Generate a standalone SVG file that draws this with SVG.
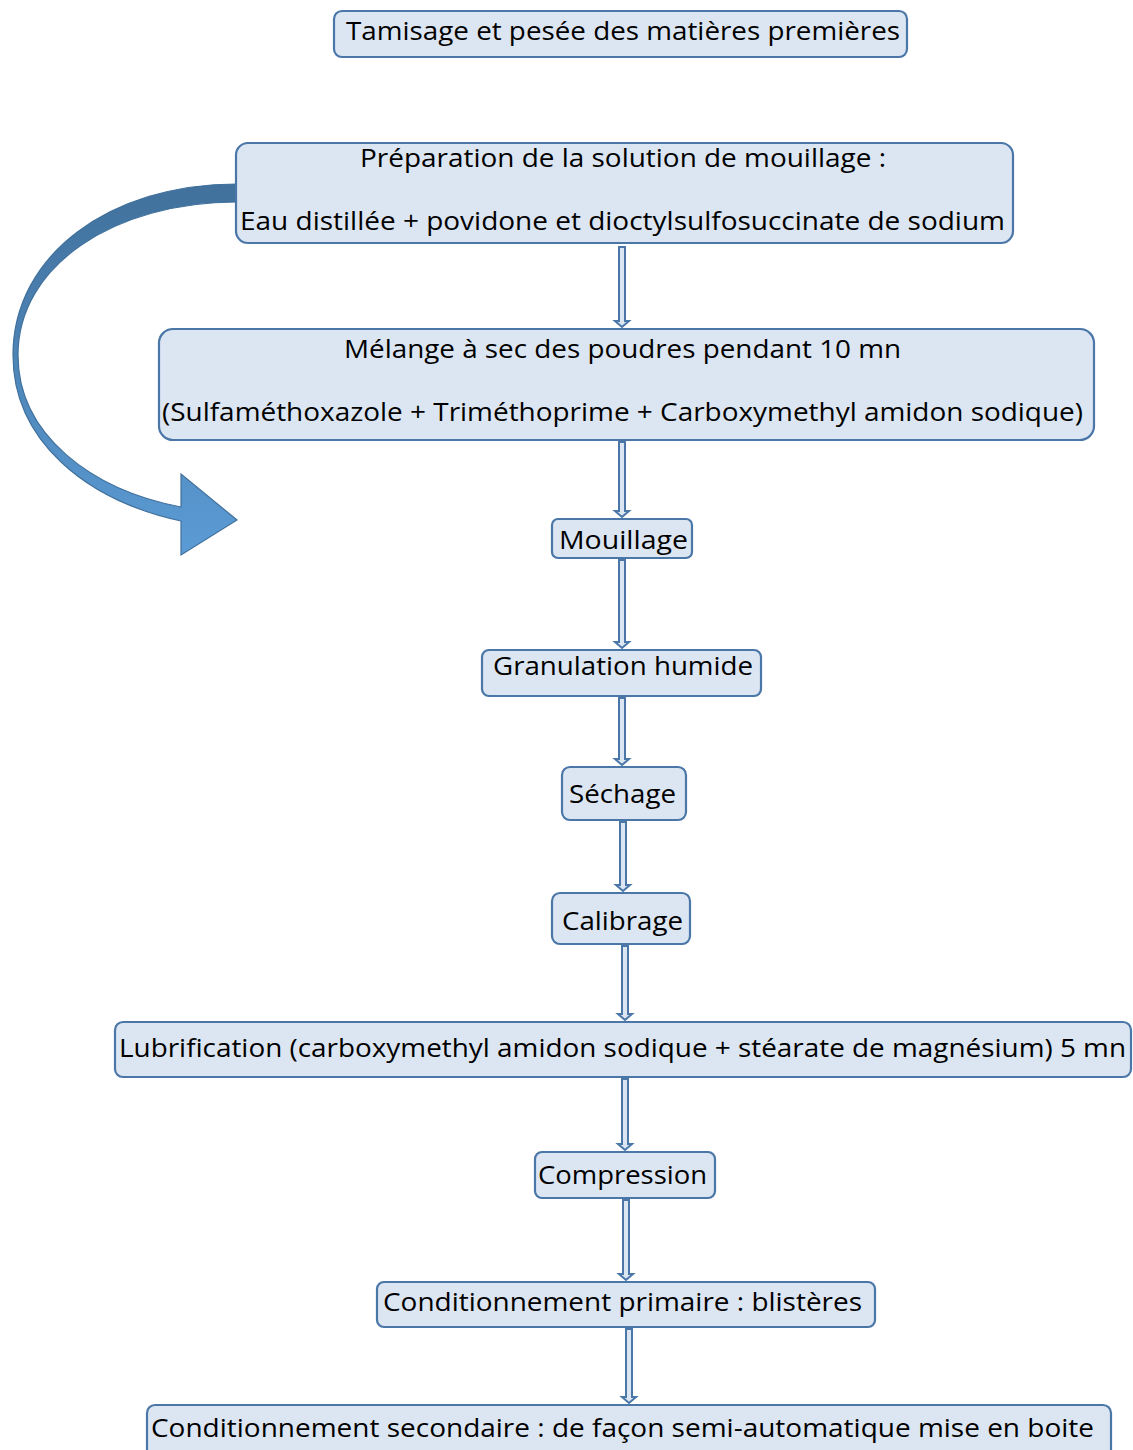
<svg xmlns="http://www.w3.org/2000/svg" width="1133" height="1450" viewBox="0 0 1133 1450">
<style>
.box{fill:#dce6f2;stroke:#4a76a8;stroke-width:2.2}
.t{font-family:"Open Sans","Liberation Sans",sans-serif;font-size:26px;fill:#000}
.arr{fill:#dce6f2;stroke:#4a76a8;stroke-width:2;stroke-linejoin:miter}
</style>
<defs>
<linearGradient id="g" x1="0" y1="0" x2="0" y2="1">
<stop offset="0" stop-color="#41719c"/>
<stop offset="1" stop-color="#5b9bd5"/>
</linearGradient>
</defs>
<rect width="1133" height="1450" fill="#ffffff"/>
<g id="connectors">
<path class="arr" d="M619,247 H625 V321 H629 L622,327 L615,321 H619 Z"/>
<path class="arr" d="M619,442 H625 V511 H629 L622,517 L615,511 H619 Z"/>
<path class="arr" d="M619,560 H625 V642 H629 L622,648 L615,642 H619 Z"/>
<path class="arr" d="M619,698 H625 V759 H629 L622,765 L615,759 H619 Z"/>
<path class="arr" d="M620,822 H626 V885 H630 L623,891 L616,885 H620 Z"/>
<path class="arr" d="M622,946 H628 V1014 H632 L625,1020 L618,1014 H622 Z"/>
<path class="arr" d="M622,1079 H628 V1144 H632 L625,1150 L618,1144 H622 Z"/>
<path class="arr" d="M623,1200 H629 V1274 H633 L626,1280 L619,1274 H623 Z"/>
<path class="arr" d="M626,1329 H632 V1397 H636 L629,1403 L622,1397 H626 Z"/>
<path id="curve" d="M237,184 C110,184 13,255 13,355 C13,440 85,500 181,521 L181,555 L237,520 L181,474 L181,507 C92,490 18,435 18,355 C18,265 115,202 237,202 Z" fill="url(#g)" stroke="#41719c" stroke-width="1.2"/>
</g>
<g id="n1"><rect class="box" x="334" y="11" width="573" height="46" rx="8"/><text class="t" x="346" y="40" textLength="554" lengthAdjust="spacingAndGlyphs">Tamisage et pesée des matières premières</text></g>
<g id="n2"><rect class="box" x="236" y="143" width="777" height="100" rx="12"/><text class="t" x="360" y="167" textLength="526" lengthAdjust="spacingAndGlyphs">Préparation de la solution de mouillage :</text><text class="t" x="240" y="230" textLength="765" lengthAdjust="spacingAndGlyphs">Eau distillée + povidone et dioctylsulfosuccinate de sodium</text></g>
<g id="n3"><rect class="box" x="159" y="329" width="935" height="111" rx="14"/><text class="t" x="344" y="358" textLength="557" lengthAdjust="spacingAndGlyphs">Mélange à sec des poudres pendant 10 mn</text><text class="t" x="162" y="421" textLength="921" lengthAdjust="spacingAndGlyphs">(Sulfaméthoxazole + Triméthoprime + Carboxymethyl amidon sodique)</text></g>
<g id="n4"><rect class="box" x="552" y="519" width="140" height="39" rx="6"/><text class="t" x="559" y="549" textLength="129" lengthAdjust="spacingAndGlyphs">Mouillage</text></g>
<g id="n5"><rect class="box" x="482" y="650" width="279" height="46" rx="7"/><text class="t" x="493" y="675" textLength="260" lengthAdjust="spacingAndGlyphs">Granulation humide</text></g>
<g id="n6"><rect class="box" x="562" y="767" width="124" height="53" rx="8"/><text class="t" x="569" y="803" textLength="107" lengthAdjust="spacingAndGlyphs">Séchage</text></g>
<g id="n7"><rect class="box" x="552" y="893" width="138" height="51" rx="8"/><text class="t" x="562" y="930" textLength="121" lengthAdjust="spacingAndGlyphs">Calibrage</text></g>
<g id="n8"><rect class="box" x="115" y="1022" width="1016" height="55" rx="8"/><text class="t" x="119" y="1057" textLength="1007" lengthAdjust="spacingAndGlyphs">Lubrification (carboxymethyl amidon sodique + stéarate de magnésium) 5 mn</text></g>
<g id="n9"><rect class="box" x="535" y="1152" width="180" height="46" rx="7"/><text class="t" x="538" y="1184" textLength="169" lengthAdjust="spacingAndGlyphs">Compression</text></g>
<g id="n10"><rect class="box" x="377" y="1282" width="498" height="45" rx="7"/><text class="t" x="383" y="1311" textLength="479" lengthAdjust="spacingAndGlyphs">Conditionnement primaire : blistères</text></g>
<g id="n11"><rect class="box" x="147" y="1405" width="964" height="60" rx="8"/><text class="t" x="151" y="1437" textLength="943" lengthAdjust="spacingAndGlyphs">Conditionnement secondaire : de façon semi-automatique mise en boite</text></g>
</svg>
